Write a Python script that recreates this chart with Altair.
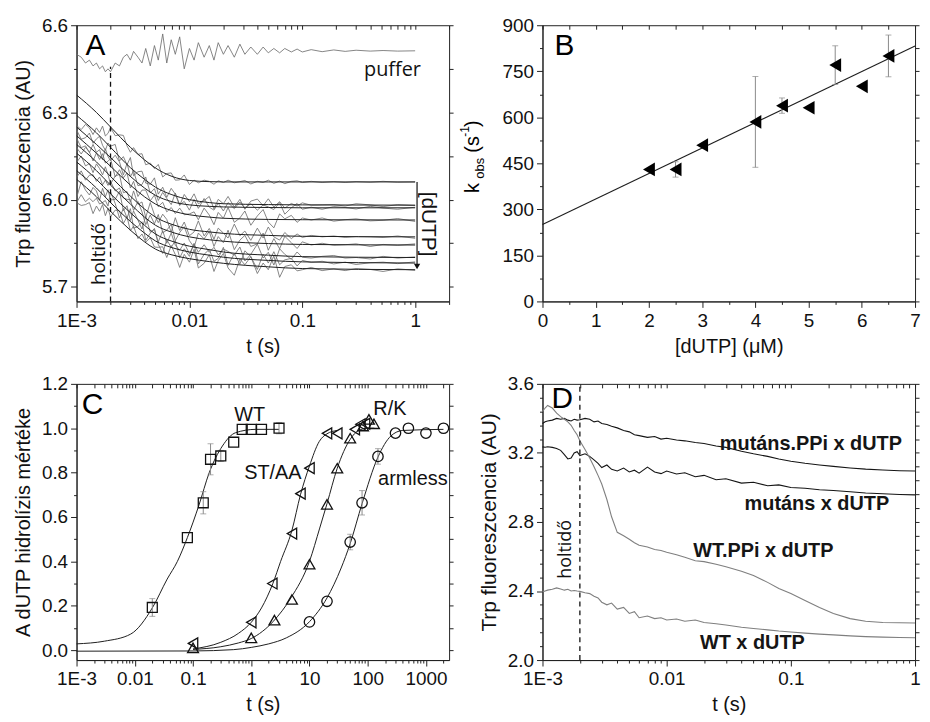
import altair as alt
import pandas as pd

FONT = "Liberation Sans"

# ---------------- Panel A : stopped-flow traces ----------------
A_T = [0.001, 0.0011, 0.0012, 0.0013, 0.0014, 0.0015, 0.0016, 0.0017, 0.0018, 0.0019,
       0.002, 0.0022, 0.0024, 0.0026, 0.0028, 0.003, 0.0032, 0.0035, 0.0038, 0.0041,
       0.0045, 0.0049, 0.0053, 0.0058, 0.0063, 0.0069, 0.0075, 0.0082, 0.009, 0.01,
       0.011, 0.012, 0.0135, 0.015, 0.0165, 0.018, 0.02, 0.022, 0.025, 0.028,
       0.031, 0.035, 0.04, 0.045, 0.05, 0.056, 0.063, 0.07, 0.08, 0.09,
       0.1, 0.12, 0.15, 0.19, 0.24, 0.3, 0.4, 0.52, 0.7, 1.0]
A_PUFFER = [6.50, 6.49, 6.47, 6.48, 6.46, 6.47, 6.45, 6.46, 6.44, 6.45,
            6.44, 6.47, 6.46, 6.49, 6.50, 6.48, 6.51, 6.49, 6.47, 6.52,
            6.46, 6.53, 6.48, 6.57, 6.47, 6.55, 6.50, 6.56, 6.45, 6.52,
            6.48, 6.54, 6.49, 6.53, 6.48, 6.54, 6.50, 6.53, 6.49, 6.535,
            6.50, 6.525, 6.50, 6.525, 6.505, 6.52, 6.505, 6.52, 6.508, 6.518,
            6.508, 6.516, 6.509, 6.515, 6.51, 6.514, 6.511, 6.513, 6.511, 6.512]
A_TRACES = [
    [6.255, 6.241, 6.259, 6.247, 6.224, 6.247, 6.231, 6.253, 6.219, 6.228,
     6.248, 6.220, 6.223, 6.221, 6.185, 6.163, 6.179, 6.156, 6.158, 6.120,
     6.126, 6.107, 6.121, 6.078, 6.090, 6.092, 6.067, 6.068, 6.085, 6.052,
     6.067, 6.058, 6.067, 6.063, 6.053, 6.065, 6.059, 6.067, 6.058, 6.062,
     6.066, 6.054, 6.063, 6.059, 6.067, 6.056, 6.064, 6.055, 6.063, 6.065,
     6.059, 6.063, 6.059, 6.062, 6.059, 6.062, 6.060, 6.063, 6.060, 6.061],
    [6.240, 6.208, 6.213, 6.229, 6.194, 6.209, 6.218, 6.187, 6.170, 6.195,
     6.184, 6.190, 6.133, 6.148, 6.120, 6.145, 6.082, 6.096, 6.098, 6.057,
     6.053, 6.075, 6.019, 6.043, 6.008, 6.039, 6.019, 5.980, 6.018, 5.993,
     6.020, 5.986, 5.997, 6.011, 5.968, 6.001, 5.986, 6.011, 5.974, 6.001,
     5.967, 5.995, 6.002, 5.979, 6.003, 5.975, 5.993, 5.971, 5.987, 5.978,
     5.989, 5.981, 5.982, 5.983, 5.978, 5.986, 5.982, 5.976, 5.983, 5.980],
    [6.212, 6.179, 6.185, 6.162, 6.190, 6.163, 6.172, 6.138, 6.175, 6.148,
     6.134, 6.153, 6.130, 6.085, 6.125, 6.079, 6.099, 6.048, 6.052, 6.078,
     6.023, 6.038, 5.997, 6.025, 6.004, 5.983, 6.023, 5.982, 5.994, 5.964,
     6.001, 5.970, 6.004, 5.974, 5.964, 5.988, 5.961, 5.990, 5.969, 5.992,
     5.971, 5.986, 5.964, 5.982, 5.975, 5.966, 5.990, 5.950, 5.972, 5.987,
     5.967, 5.974, 5.967, 5.976, 5.973, 5.968, 5.977, 5.971, 5.967, 5.974],
    [6.179, 6.157, 6.180, 6.164, 6.133, 6.161, 6.138, 6.158, 6.126, 6.132,
     6.141, 6.078, 6.103, 6.075, 6.092, 6.040, 6.063, 6.011, 6.033, 6.033,
     5.996, 6.016, 5.976, 5.991, 5.958, 5.973, 5.952, 5.971, 5.948, 5.951,
     5.958, 5.931, 5.971, 5.947, 5.914, 5.956, 5.936, 5.973, 5.922, 5.937,
     5.961, 5.912, 5.944, 5.966, 5.923, 5.903, 5.951, 5.934, 5.946, 5.922,
     5.937, 5.930, 5.937, 5.926, 5.931, 5.934, 5.927, 5.929, 5.935, 5.925],
    [6.128, 6.150, 6.116, 6.124, 6.093, 6.123, 6.107, 6.085, 6.113, 6.086,
     6.054, 6.081, 6.087, 6.024, 6.028, 5.991, 6.030, 5.984, 5.992, 5.939,
     5.990, 5.948, 5.921, 5.950, 5.932, 5.888, 5.938, 5.894, 5.923, 5.876,
     5.889, 5.927, 5.875, 5.901, 5.864, 5.902, 5.885, 5.868, 5.916, 5.876,
     5.892, 5.860, 5.902, 5.868, 5.906, 5.872, 5.861, 5.887, 5.866, 5.882,
     5.870, 5.877, 5.872, 5.875, 5.870, 5.873, 5.872, 5.870, 5.875, 5.867],
    [6.077, 6.099, 6.067, 6.084, 6.086, 6.063, 6.078, 6.051, 6.067, 6.049,
     6.063, 6.030, 6.040, 6.006, 6.001, 6.000, 5.963, 5.994, 5.958, 5.914,
     5.947, 5.917, 5.949, 5.886, 5.895, 5.915, 5.859, 5.887, 5.907, 5.859,
     5.836, 5.885, 5.865, 5.891, 5.839, 5.873, 5.852, 5.895, 5.828, 5.861,
     5.877, 5.839, 5.848, 5.885, 5.826, 5.866, 5.831, 5.874, 5.852, 5.832,
     5.855, 5.844, 5.850, 5.843, 5.845, 5.848, 5.839, 5.846, 5.843, 5.848],
    [6.006, 6.062, 6.033, 6.016, 6.042, 6.030, 5.998, 6.039, 6.010, 6.034,
     5.999, 6.001, 6.029, 5.962, 5.979, 5.928, 5.961, 5.929, 5.899, 5.943,
     5.888, 5.897, 5.855, 5.893, 5.850, 5.885, 5.843, 5.826, 5.851, 5.814,
     5.847, 5.819, 5.845, 5.819, 5.836, 5.810, 5.830, 5.822, 5.809, 5.837,
     5.789, 5.812, 5.847, 5.799, 5.819, 5.775, 5.831, 5.812, 5.795, 5.820,
     5.802, 5.799, 5.805, 5.808, 5.799, 5.801, 5.796, 5.805, 5.799, 5.803],
    [5.990, 6.017, 5.993, 6.005, 5.993, 6.005, 5.985, 5.990, 5.997, 5.978,
     6.027, 5.987, 5.937, 5.970, 5.937, 5.969, 5.902, 5.907, 5.924, 5.860,
     5.885, 5.901, 5.846, 5.815, 5.862, 5.836, 5.859, 5.800, 5.831, 5.805,
     5.850, 5.779, 5.812, 5.829, 5.788, 5.798, 5.836, 5.774, 5.815, 5.778,
     5.824, 5.804, 5.760, 5.812, 5.782, 5.821, 5.776, 5.793, 5.798, 5.772,
     5.791, 5.784, 5.788, 5.779, 5.785, 5.777, 5.783, 5.785, 5.780, 5.786],
    [5.990, 5.980, 5.983, 5.990, 5.952, 5.978, 5.960, 5.983, 5.945, 5.970,
     5.941, 5.964, 5.961, 5.918, 5.941, 5.893, 5.909, 5.866, 5.882, 5.854,
     5.869, 5.837, 5.836, 5.838, 5.801, 5.842, 5.811, 5.767, 5.812, 5.785,
     5.829, 5.765, 5.781, 5.811, 5.753, 5.790, 5.815, 5.765, 5.740, 5.796,
     5.776, 5.804, 5.746, 5.782, 5.759, 5.807, 5.733, 5.770, 5.776, 5.755,
     5.759, 5.767, 5.756, 5.762, 5.756, 5.763, 5.760, 5.753, 5.762, 5.757],
]
A_FIT_T = [0.001, 0.0015, 0.002, 0.003, 0.004, 0.005, 0.007, 0.01, 0.015, 0.02, 0.05, 0.1, 1.0]
A_FITS = [
    [6.36, 6.30, 6.25, 6.18, 6.137, 6.109, 6.080, 6.066, 6.062, 6.061, 6.061, 6.061, 6.061],
    [6.29, 6.23, 6.18, 6.11, 6.07, 6.043, 6.017, 6.0, 5.99, 5.986, 5.983, 5.982, 5.981],
    [6.25, 6.19, 6.145, 6.08, 6.04, 6.015, 5.993, 5.982, 5.977, 5.975, 5.973, 5.972, 5.972],
    [6.22, 6.16, 6.115, 6.05, 6.01, 5.985, 5.962, 5.948, 5.94, 5.936, 5.932, 5.931, 5.930],
    [6.19, 6.13, 6.08, 6.012, 5.968, 5.94, 5.915, 5.898, 5.889, 5.884, 5.877, 5.874, 5.872],
    [6.16, 6.10, 6.05, 5.985, 5.94, 5.912, 5.888, 5.872, 5.862, 5.857, 5.849, 5.846, 5.844],
    [6.13, 6.07, 6.02, 5.955, 5.912, 5.882, 5.857, 5.84, 5.828, 5.82, 5.809, 5.804, 5.801],
    [6.10, 6.04, 5.99, 5.925, 5.885, 5.858, 5.835, 5.82, 5.809, 5.802, 5.791, 5.786, 5.782],
    [6.07, 6.01, 5.96, 5.895, 5.855, 5.83, 5.81, 5.797, 5.787, 5.781, 5.769, 5.763, 5.759],
]
A_DEAD_T = [0.002]
A_DEAD_Y = [5.65, 6.457]
A_ARROW_T = [1.04]
A_ARROW_Y = [6.061, 5.77]

# ---------------- Panel B : kobs vs [dUTP] ----------------
B_X = [2.0, 2.5, 3.0, 4.0, 4.5, 5.0, 5.5, 6.0, 6.5]
B_Y = [430, 430, 509, 585, 638, 631, 770, 701, 800]
B_ERR = [0, 25, 0, 148, 25, 0, 63, 0, 68]
B_FIT_X = [0.0, 7.0]
B_FIT_Y = [251, 832]

# ---------------- Panel C : hydrolysis extent ----------------
C_WT_T = [0.02, 0.08, 0.15, 0.2, 0.3, 0.5, 0.7, 1.0, 1.5, 3.0]
C_WT_V = [0.192, 0.507, 0.664, 0.86, 0.875, 0.937, 0.995, 0.995, 0.995, 1.0]
C_WT_E = [0.04, 0.0, 0.05, 0.07, 0.025, 0.0, 0.0, 0.0, 0.0, 0.025]
C_ST_T = [0.1, 1.0, 2.3, 5.0, 7.0, 10.0, 20.0, 30.0, 60.0, 75.0, 90.0]
C_ST_V = [0.03, 0.125, 0.30, 0.525, 0.705, 0.82, 0.977, 0.977, 0.995, 1.018, 1.02]
C_RK_T = [0.1, 1.0, 2.5, 5.0, 10.0, 20.0, 30.0, 50.0, 83.0, 105.0, 128.0]
C_RK_V = [0.01, 0.055, 0.135, 0.228, 0.387, 0.657, 0.82, 0.955, 1.01, 1.04, 1.02]
C_AR_T = [10.0, 20.0, 50.0, 80.0, 150.0, 300.0, 500.0, 1000.0, 2000.0]
C_AR_V = [0.127, 0.22, 0.487, 0.664, 0.873, 0.978, 1.0, 0.978, 1.0]
C_AR_E = [0.0, 0.0, 0.035, 0.055, 0.035, 0.0, 0.0, 0.0, 0.0]

C_WT_FIT_T = [0.001, 0.003, 0.0085, 0.02, 0.036, 0.054, 0.08, 0.126, 0.19, 0.32, 0.54, 1.2, 3.0]
C_WT_FIT_V = [0.028, 0.04, 0.072, 0.19, 0.32, 0.40, 0.507, 0.652, 0.80, 0.92, 0.98, 0.995, 0.995]
C_ST_FIT_T = [0.1, 0.3, 0.6, 1.0, 1.5, 2.35, 3.2, 5.0, 7.0, 10.0, 14.7, 20.0, 30.0]
C_ST_FIT_V = [0.005, 0.035, 0.075, 0.125, 0.19, 0.30, 0.40, 0.54, 0.70, 0.83, 0.94, 0.975, 0.99]
C_RK_FIT_T = [0.1, 0.3, 0.6, 1.0, 2.4, 4.8, 10.0, 15.0, 20.0, 30.0, 50.0, 70.0, 100.0, 130.0]
C_RK_FIT_V = [0.003, 0.015, 0.032, 0.052, 0.13, 0.235, 0.40, 0.55, 0.66, 0.82, 0.95, 0.99, 1.0, 1.0]
C_AR_FIT_T = [0.001, 0.1, 0.5, 1.0, 2.0, 4.0, 10.0, 20.0, 35.0, 50.0, 80.0, 150.0, 250.0, 400.0, 2000.0]
C_AR_FIT_V = [-0.005, -0.004, 0.002, 0.012, 0.028, 0.055, 0.128, 0.235, 0.37, 0.48, 0.66, 0.87, 0.965, 0.99, 0.995]

# ---------------- Panel D : fluorescence traces ----------------
D_T = [0.001, 0.00105, 0.0011, 0.0012, 0.0013, 0.0014, 0.0015, 0.0016, 0.0017, 0.0018,
       0.0019, 0.002, 0.0022, 0.0024, 0.0026, 0.0028, 0.003, 0.0033, 0.0036, 0.004,
       0.0045, 0.005, 0.0055, 0.006, 0.007, 0.008, 0.009, 0.01, 0.012, 0.014,
       0.017, 0.02, 0.025, 0.03, 0.04, 0.05, 0.065, 0.08, 0.1, 0.13,
       0.17, 0.22, 0.3, 0.4, 0.55, 0.75, 1.0]
D_MUT_PPI = [3.37, 3.38, 3.385, 3.39, 3.40, 3.395, 3.40, 3.39, 3.385, 3.395,
             3.39, 3.392, 3.40, 3.395, 3.38, 3.385, 3.37, 3.365, 3.355, 3.345,
             3.33, 3.322, 3.305, 3.30, 3.29, 3.295, 3.28, 3.285, 3.275, 3.27,
             3.26, 3.255, 3.24, 3.232, 3.21, 3.195, 3.18, 3.165, 3.152, 3.14,
             3.13, 3.122, 3.113, 3.106, 3.101, 3.097, 3.095]
D_MUT = [3.235, 3.233, 3.236, 3.232, 3.226, 3.215, 3.19, 3.165, 3.17, 3.20,
         3.207, 3.185, 3.195, 3.18, 3.16, 3.14, 3.115, 3.13, 3.105, 3.095,
         3.112, 3.09, 3.10, 3.083, 3.118, 3.09, 3.08, 3.095, 3.078, 3.085,
         3.062, 3.07, 3.045, 3.05, 3.025, 3.03, 3.01, 3.015, 3.0, 2.995,
         2.987, 2.982, 2.975, 2.968, 2.963, 2.959, 2.957]
D_WT_PPI = [3.44, 3.46, 3.475, 3.46, 3.43, 3.41, 3.395, 3.38, 3.36, 3.33,
            3.305, 3.27, 3.22, 3.17, 3.12, 3.07, 3.02, 2.93, 2.83, 2.74,
            2.72, 2.70, 2.68, 2.665, 2.655, 2.64, 2.635, 2.625, 2.61, 2.595,
            2.575, 2.57, 2.555, 2.54, 2.515, 2.49, 2.45, 2.415, 2.385, 2.345,
            2.305, 2.27, 2.24, 2.225, 2.218, 2.216, 2.215]
D_WT = [2.395, 2.40, 2.405, 2.41, 2.418, 2.412, 2.405, 2.41, 2.40, 2.403,
        2.40, 2.398, 2.39, 2.385, 2.37, 2.36, 2.335, 2.32, 2.33, 2.295,
        2.305, 2.27, 2.28, 2.245, 2.255, 2.24, 2.245, 2.232, 2.238, 2.225,
        2.232, 2.218, 2.21, 2.203, 2.19, 2.183, 2.175, 2.168, 2.163, 2.156,
        2.15, 2.146, 2.14, 2.136, 2.133, 2.131, 2.129]
D_DEAD_T = [0.002]
D_DEAD_Y = [2.0, 3.6]

# ---------------- tick lists ----------------
LOG_MAJ_A = [0.001, 0.01, 0.1, 1]
LOG_MIN_A = [0.002, 0.003, 0.004, 0.005, 0.006, 0.007, 0.008, 0.009,
             0.02, 0.03, 0.04, 0.05, 0.06, 0.07, 0.08, 0.09,
             0.2, 0.3, 0.4, 0.5, 0.6, 0.7, 0.8, 0.9, 2]
LOG_MIN_D = LOG_MIN_A[:-1]
LOG_MAJ_C = [0.001, 0.01, 0.1, 1, 10, 100, 1000]
LOG_MIN_C = [m * d for d in [0.001, 0.01, 0.1, 1, 10, 100] for m in [2, 3, 4, 5, 6, 7, 8, 9]] + [2000]
LOG_EXPR = ("datum.value < 0.002 ? '1E-3' : datum.value < 0.02 ? '0.01' : datum.value < 0.2 ? '0.1' : "
            "datum.value < 2 ? '1' : datum.value < 20 ? '10' : datum.value < 200 ? '100' : '1000'")

AX = dict(labelFont=FONT, titleFont=FONT, labelFontSize=19, titleFontSize=20, titleFontWeight="normal",
          labelColor="#111", titleColor="#111", tickColor="#222", domainColor="#222", grid=False)


def axes_layers(xsc, ysc, x0, y0, xmaj, xmin, ymaj, ymin, xtitle, ytitle,
                xexpr=None, xfmt=None, yfmt=None, ytfs=20):
    dummy = pd.DataFrame({"x": [x0], "y": [y0]})
    base = alt.Chart(dummy).mark_point(opacity=0)
    xa = dict(AX, orient="bottom", values=xmaj, title=xtitle, tickSize=6, labelPadding=4,
              titlePadding=6, labelOverlap=False, labelFlush=False)
    if xexpr:
        xa["labelExpr"] = xexpr
    if xfmt:
        xa["format"] = xfmt
    ya = dict(AX, orient="left", values=ymaj, tickSize=6, labelPadding=3, titlePadding=8,
              labelOverlap=False, labelFlush=False)
    ya["titleFontSize"] = ytfs
    ya["title"] = ytitle
    if yfmt:
        ya["format"] = yfmt
    main = base.encode(
        x=alt.X("x:Q", scale=xsc, axis=alt.Axis(**xa)),
        y=alt.Y("y:Q", scale=ysc, axis=alt.Axis(**ya)),
    )
    minor = base.encode(
        x=alt.X("x:Q", scale=xsc, axis=alt.Axis(orient="bottom", values=xmin, labels=False, tickSize=3,
                                                tickColor="#222", domain=False, title=None, grid=False)),
        y=alt.Y("y:Q", scale=ysc, axis=alt.Axis(orient="left", values=ymin, labels=False, tickSize=3,
                                                tickColor="#222", domain=False, title=None, grid=False)),
    )
    mirror = base.encode(
        x=alt.X("x:Q", scale=xsc, axis=alt.Axis(orient="top", values=xmaj + xmin, labels=False, tickSize=4,
                                                tickColor="#222", offset=-4, domain=False, title=None,
                                                grid=False)),
        y=alt.Y("y:Q", scale=ysc, axis=alt.Axis(orient="right", values=ymaj + ymin, labels=False, tickSize=4,
                                                tickColor="#222", domain=False, title=None, grid=False)),
    )
    return [main, minor, mirror]


def pix_text(txt, x, y, size=30, angle=0, font=FONT, weight="normal", color="#000"):
    return alt.Chart(pd.DataFrame({"label": [txt]})).mark_text(
        fontSize=size, angle=angle, font=font, fontWeight=weight, color=color,
        align="center", baseline="middle").encode(
        x=alt.value(x), y=alt.value(y), text="label:N")


W, H = 375, 278

# ================= Panel A =================
xsA = alt.Scale(type="log", domain=[0.001, 2], nice=False)
ysA = alt.Scale(domain=[5.65, 6.6], nice=False, zero=False)


def XA(f):
    return alt.X(f, type="quantitative", scale=xsA, axis=None)


def YA(f):
    return alt.Y(f, type="quantitative", scale=ysA, axis=None)


rowsA = []
for i, tr in enumerate(A_TRACES):
    for t, v in zip(A_T, tr):
        rowsA.append({"t": t, "v": v, "s": f"d{i}"})
for t, v in zip(A_T, A_PUFFER):
    rowsA.append({"t": t, "v": v, "s": "puffer"})
dfA = pd.DataFrame(rowsA)
rowsAF = []
for i, fit in enumerate(A_FITS):
    for t, v in zip(A_FIT_T, fit):
        rowsAF.append({"t": t, "v": v, "s": f"f{i}"})
dfAF = pd.DataFrame(rowsAF)

a_traces = alt.Chart(dfA).mark_line(color="#707070", strokeWidth=0.85, clip=True).encode(
    x=XA("t"), y=YA("v"), detail="s:N")
a_fits = alt.Chart(dfAF).mark_line(color="#1e1e1e", strokeWidth=1, interpolate="monotone", clip=True).encode(
    x=XA("t"), y=YA("v"), detail="s:N")
a_dead = alt.Chart(pd.DataFrame({"t": A_DEAD_T, "y1": [A_DEAD_Y[0]], "y2": [A_DEAD_Y[1]]})).mark_rule(
    color="#111", strokeWidth=1.3, strokeDash=[5, 4]).encode(x=XA("t"), y=YA("y1"), y2="y2")
a_arrow = alt.Chart(pd.DataFrame({"t": A_ARROW_T, "y1": [A_ARROW_Y[0]], "y2": [A_ARROW_Y[1]]})).mark_rule(
    color="#111", strokeWidth=1.2).encode(x=XA("t"), y=YA("y1"), y2="y2")
a_head = alt.Chart(pd.DataFrame({"t": A_ARROW_T, "y": [A_ARROW_Y[1]]})).mark_point(
    shape="triangle-down", filled=True, color="#111", size=40, opacity=1).encode(x=XA("t"), y=YA("y"))
a_txt = alt.Chart(pd.DataFrame({"t": [0.63], "v": [6.447], "label": ["puffer"]})).mark_text(
    font="Open Sans", fontSize=20, color="#111").encode(x=XA("t"), y=YA("v"), text="label:N")
a_dutp = alt.Chart(pd.DataFrame({"t": [1.31], "v": [5.916], "label": ["[dUTP]"]})).mark_text(
    font=FONT, fontSize=21, color="#111", angle=90).encode(x=XA("t"), y=YA("v"), text="label:N")
a_hold = alt.Chart(pd.DataFrame({"t": [0.00158], "v": [5.813], "label": ["holtidő"]})).mark_text(
    font="Open Sans", fontSize=19, color="#111", angle=270).encode(x=XA("t"), y=YA("v"), text="label:N")

panelA = alt.layer(
    *axes_layers(xsA, ysA, 0.01, 6.0, LOG_MAJ_A, LOG_MIN_A, [5.7, 6.0, 6.3, 6.6], [5.85, 6.15, 6.45],
                 "t (s)", "Trp fluoreszcencia (AU)", xexpr=LOG_EXPR, yfmt=".1f"),
    a_traces, a_fits, a_dead, a_arrow, a_head, a_txt, a_dutp, a_hold,
    pix_text("A", 19, 21, size=30),
).resolve_axis(x="independent", y="independent").properties(width=W, height=H)

# ================= Panel B =================
xsB = alt.Scale(domain=[0, 7], nice=False, zero=False)
ysB = alt.Scale(domain=[0, 900], nice=False)


def XB(f):
    return alt.X(f, type="quantitative", scale=xsB, axis=None)


def YB(f):
    return alt.Y(f, type="quantitative", scale=ysB, axis=None)


dfB = pd.DataFrame({"x": B_X, "y": B_Y, "e": B_ERR})
dfB["lo"] = dfB["y"] - dfB["e"]
dfB["hi"] = dfB["y"] + dfB["e"]
dfBe = dfB[dfB["e"] > 0]
b_fit = alt.Chart(pd.DataFrame({"x": B_FIT_X, "y": B_FIT_Y})).mark_line(color="#1e1e1e", strokeWidth=1.1).encode(
    x=XB("x"), y=YB("y"))
b_err = alt.Chart(dfBe).mark_rule(color="#8a8a8a", strokeWidth=1).encode(x=XB("x"), y=YB("lo"), y2="hi")
b_cap1 = alt.Chart(dfBe).mark_tick(orient="horizontal", color="#8a8a8a", size=6, thickness=1).encode(
    x=XB("x"), y=YB("lo"))
b_cap2 = alt.Chart(dfBe).mark_tick(orient="horizontal", color="#8a8a8a", size=6, thickness=1).encode(
    x=XB("x"), y=YB("hi"))
b_pts = alt.Chart(dfB).mark_point(shape="triangle-left", filled=True, color="#000", size=190, opacity=1).encode(
    x=XB("x"), y=YB("y"))

panelB = alt.layer(
    *axes_layers(xsB, ysB, 1.0, 100, [0, 1, 2, 3, 4, 5, 6, 7], [0.5, 1.5, 2.5, 3.5, 4.5, 5.5, 6.5],
                 [0, 150, 300, 450, 600, 750, 900], [75, 225, 375, 525, 675, 825],
                 "[dUTP] (\u03bcM)", None, xfmt="d", yfmt="d"),
    b_fit, b_err, b_cap1, b_cap2, b_pts,
    pix_text("B", 22, 21, size=30),
    pix_text("k", -70, 164, size=20, angle=270),
    pix_text("obs", -63, 144, size=13, angle=270),
    pix_text("(s", -70, 120, size=20, angle=270),
    pix_text("-1", -78, 107, size=12, angle=270),
    pix_text(")", -70, 99, size=20, angle=270),
).resolve_axis(x="independent", y="independent").properties(width=W, height=H)

# ================= Panel C =================
xsC = alt.Scale(type="log", domain=[0.001, 2500], nice=False)
ysC = alt.Scale(domain=[-0.045, 1.2], nice=False, zero=False)


def XC(f):
    return alt.X(f, type="quantitative", scale=xsC, axis=None)


def YC(f):
    return alt.Y(f, type="quantitative", scale=ysC, axis=None)


fit_rows = []
for name, ts, vs in [("WT", C_WT_FIT_T, C_WT_FIT_V), ("ST", C_ST_FIT_T, C_ST_FIT_V),
                     ("RK", C_RK_FIT_T, C_RK_FIT_V), ("AR", C_AR_FIT_T, C_AR_FIT_V)]:
    for t, v in zip(ts, vs):
        fit_rows.append({"t": t, "v": v, "s": name})
dfCF = pd.DataFrame(fit_rows)
c_fits = alt.Chart(dfCF).mark_line(color="#1e1e1e", strokeWidth=1, interpolate="monotone").encode(
    x=XC("t"), y=YC("v"), detail="s:N")

err_rows = []
for ts, vs, es in [(C_WT_T, C_WT_V, C_WT_E), (C_AR_T, C_AR_V, C_AR_E)]:
    for t, v, e in zip(ts, vs, es):
        if e > 0:
            err_rows.append({"t": t, "lo": v - e, "hi": v + e})
dfCE = pd.DataFrame(err_rows)
c_err = alt.Chart(dfCE).mark_rule(color="#8a8a8a", strokeWidth=1).encode(x=XC("t"), y=YC("lo"), y2="hi")
c_cap1 = alt.Chart(dfCE).mark_tick(orient="horizontal", color="#8a8a8a", size=6, thickness=1).encode(
    x=XC("t"), y=YC("lo"))
c_cap2 = alt.Chart(dfCE).mark_tick(orient="horizontal", color="#8a8a8a", size=6, thickness=1).encode(
    x=XC("t"), y=YC("hi"))


def c_sym(ts, vs, shape, size):
    return alt.Chart(pd.DataFrame({"t": ts, "v": vs})).mark_point(
        shape=shape, filled=False, color="#111", strokeWidth=1.3, size=size, opacity=1).encode(
        x=XC("t"), y=YC("v"))


c_lbl = alt.Chart(pd.DataFrame({
    "t": [0.94, 2.35, 240.0, 597.0],
    "v": [1.058, 0.80, 1.085, 0.77],
    "label": ["WT", "ST/AA", "R/K", "armless"]})).mark_text(
    font=FONT, fontSize=20, color="#111").encode(x=XC("t"), y=YC("v"), text="label:N")

panelC = alt.layer(
    *axes_layers(xsC, ysC, 1.0, 0.5, LOG_MAJ_C, LOG_MIN_C, [0.0, 0.2, 0.4, 0.6, 0.8, 1.0, 1.2],
                 [0.1, 0.3, 0.5, 0.7, 0.9, 1.1], "t (s)", "A dUTP hidrolízis mértéke",
                 xexpr=LOG_EXPR, yfmt=".1f", ytfs=20),
    c_fits, c_err, c_cap1, c_cap2,
    c_sym(C_WT_T, C_WT_V, "square", 100),
    c_sym(C_ST_T, C_ST_V, "triangle-left", 120),
    c_sym(C_RK_T, C_RK_V, "triangle-up", 120),
    c_sym(C_AR_T, C_AR_V, "circle", 110),
    c_lbl,
    pix_text("C", 16, 21, size=30),
).resolve_axis(x="independent", y="independent").properties(width=W, height=H)

# ================= Panel D =================
xsD = alt.Scale(type="log", domain=[0.001, 1], nice=False)
ysD = alt.Scale(domain=[2.0, 3.6], nice=False, zero=False)


def XD(f):
    return alt.X(f, type="quantitative", scale=xsD, axis=None)


def YD(f):
    return alt.Y(f, type="quantitative", scale=ysD, axis=None)


rowsD = []
for name, vs in [("mutPPi", D_MUT_PPI), ("mut", D_MUT), ("wtPPi", D_WT_PPI), ("wt", D_WT)]:
    for t, v in zip(D_T, vs):
        rowsD.append({"t": t, "v": v, "s": name})
dfD = pd.DataFrame(rowsD)
d_lines = alt.Chart(dfD).mark_line(strokeWidth=1.1).encode(
    x=XD("t"), y=YD("v"), detail="s:N",
    color=alt.Color("s:N", scale=alt.Scale(domain=["mutPPi", "mut", "wtPPi", "wt"],
                                           range=["#151515", "#151515", "#7f7f7f", "#7f7f7f"]), legend=None))
d_dead = alt.Chart(pd.DataFrame({"t": D_DEAD_T, "y1": [D_DEAD_Y[0]], "y2": [D_DEAD_Y[1]]})).mark_rule(
    color="#111", strokeWidth=1.3, strokeDash=[5, 4]).encode(x=XD("t"), y=YD("y1"), y2="y2")
d_lbl = alt.Chart(pd.DataFrame({
    "t": [0.145, 0.162, 0.06, 0.049],
    "v": [3.253, 2.901, 2.629, 2.098],
    "label": ["mutáns.PPi x dUTP", "mutáns x dUTP", "WT.PPi x dUTP", "WT x dUTP"],
    "c": ["k", "k", "g", "g"]})).mark_text(font=FONT, fontSize=20, fontWeight="bold").encode(
    x=XD("t"), y=YD("v"), text="label:N",
    color=alt.Color("c:N", scale=alt.Scale(domain=["k", "g"], range=["#111111", "#7a7a7a"]), legend=None))
d_hold = alt.Chart(pd.DataFrame({"t": [0.00154], "v": [2.641], "label": ["holtidő"]})).mark_text(
    font="Open Sans", fontSize=18, color="#111", angle=270).encode(x=XD("t"), y=YD("v"), text="label:N")

panelD = alt.layer(
    *axes_layers(xsD, ysD, 0.01, 2.8, LOG_MAJ_A, LOG_MIN_D, [2.0, 2.4, 2.8, 3.2, 3.6],
                 [2.08, 2.16, 2.24, 2.32, 2.48, 2.56, 2.64, 2.72, 2.88, 2.96, 3.04, 3.12, 3.28, 3.36, 3.44, 3.52],
                 "t (s)", "Trp fluoreszcencia (AU)", xexpr=LOG_EXPR, yfmt=".1f", ytfs=21),
    d_lines, d_dead, d_lbl, d_hold,
    pix_text("D", 20, 15, size=30),
).resolve_axis(x="independent", y="independent").properties(width=W, height=H)

chart = alt.concat(
    panelA, panelB, panelC, panelD, columns=2,
    spacing=alt.RowColnumber(row=83, column=94), bounds="flush",
).properties(
    padding={"left": 5, "top": 5, "right": 1, "bottom": 2}, background="white"
).configure_view(stroke="#222", strokeWidth=1)

chart.save("out.html", embed_options={"renderer": "svg", "actions": False})
